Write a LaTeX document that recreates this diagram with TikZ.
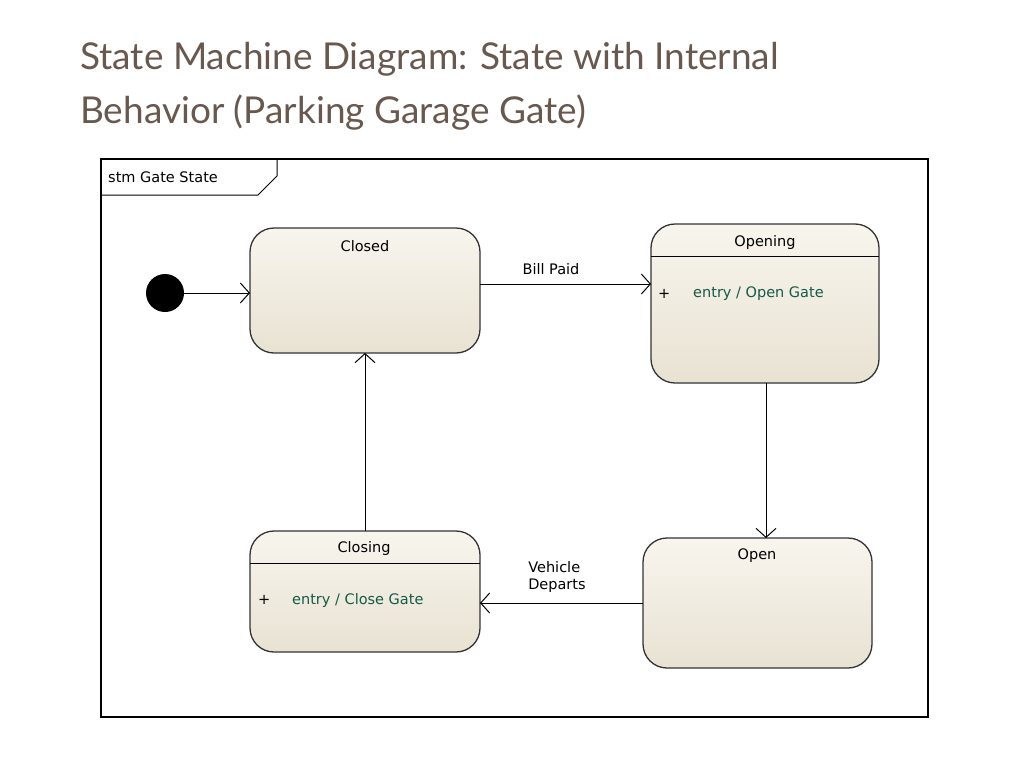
\documentclass[tikz,border=0pt]{standalone}
\usepackage{fontspec}
\setmainfont{Lato}
\newfontfamily\diag{DejaVu Sans}
\usetikzlibrary{arrows.meta}
\definecolor{titlec}{RGB}{105,88,78}
\definecolor{stfill}{RGB}{232,226,210}
\definecolor{stfilltop}{RGB}{248,245,238}
\definecolor{entryc}{RGB}{20,90,70}
\begin{document}
\begin{tikzpicture}[x=1pt,y=-1pt,
  st/.style={draw=black!80,line width=1.3pt,rounded corners=24pt,top color=stfilltop,bottom color=stfill},
  lbl/.style={font=\diag\fontsize{14.5}{17}\selectfont,inner sep=0pt},
  ent/.style={font=\diag\fontsize{14.5}{17}\selectfont,text=entryc,inner sep=0pt,anchor=west},
  tr/.style={line width=1pt,-{Straight Barb[length=9pt,width=20pt,line width=1pt]}}]
\useasboundingbox (0,0) rectangle (1024,768);
\fill[white] (0,0) rectangle (1024,768);
\node[anchor=base west,text=titlec,font=\fontsize{37}{44}\selectfont,inner sep=0pt] (t1) at (80,70) {State Machine Diagram: State with Internal};
\node[anchor=base west,text=titlec,font=\fontsize{37}{44}\selectfont,inner sep=0pt] (t2) at (80,123) {Behavior (Parking Garage Gate)};
% frame
\draw[line width=1.3pt] (101,159) rectangle (928,717);
\draw[line width=1pt] (101,195) -- (258,195) -- (277,176) -- (277,159);
\node[lbl,anchor=west] (tab) at (108,177) {stm Gate State};
% initial
\fill (165,293) circle (19);
\coordinate (init) at (184,293);
% states
\draw[st] (250,228) rectangle (480,353);
\node[lbl] (closed) at (365,246) {Closed};
\draw[st] (651,224) rectangle (879,383);
\draw[line width=1pt] (651,256) -- (879,256);
\node[lbl] (opening) at (765,242) {Opening};
\node[lbl,anchor=west] (op1) at (658,294) {+};
\node[ent] (op2) at (693,294) {entry / Open Gate};
\draw[st] (643,538) rectangle (872,668);
\node[lbl] (open) at (757,556) {Open};
\draw[st] (250,531) rectangle (480,652);
\draw[line width=1pt] (250,563) -- (480,563);
\node[lbl] (closing) at (364,548) {Closing};
\node[lbl,anchor=west] (cl1) at (258,600) {+};
\node[ent] (cl2) at (292,600) {entry / Close Gate};
% transitions
\coordinate (cL) at (250,293);
\draw[tr] (init) -- (cL);
\coordinate (cR) at (480,284);
\coordinate (oL) at (651,284);
\draw[tr] (cR) -- (oL);
\node[lbl] (bp) at (551,269) {Bill Paid};
\coordinate (oB) at (766,383);
\coordinate (opT) at (766,538);
\draw[tr] (oB) -- (opT);
\coordinate (opL) at (643,603);
\coordinate (clR) at (480,603);
\draw[tr] (opL) -- (clR);
\node[lbl,align=left] (vd) at (557,577) {Vehicle\\Departs};
\coordinate (clT) at (365,531);
\coordinate (cB) at (365,353);
\draw[tr] (clT) -- (cB);
\end{tikzpicture}
\end{document}
